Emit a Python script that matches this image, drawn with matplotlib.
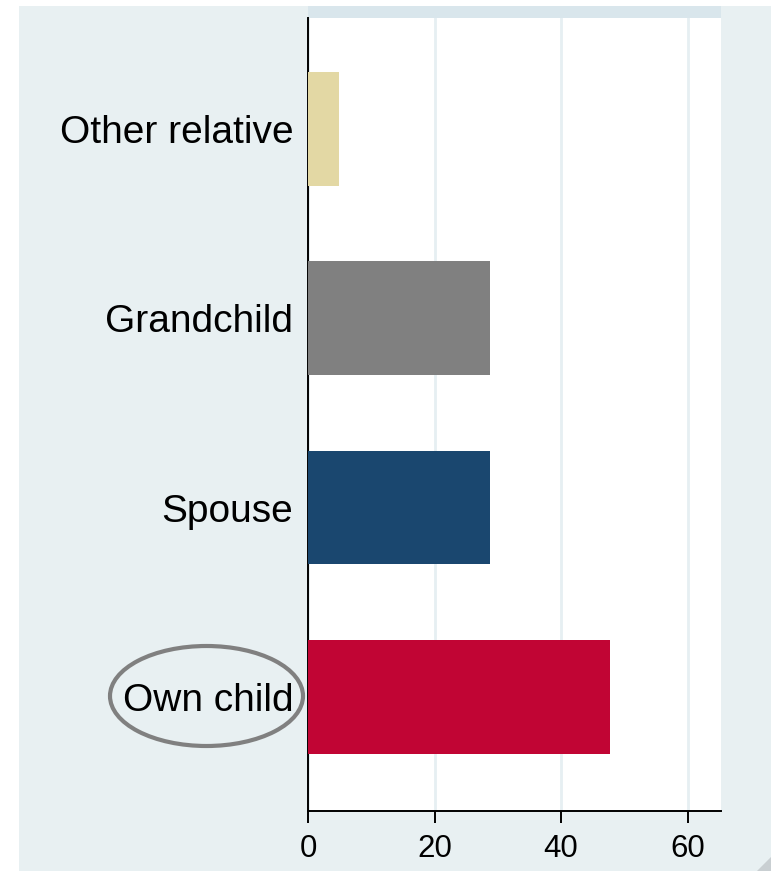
import matplotlib.pyplot as plt
from matplotlib.patches import Rectangle, Ellipse, Polygon

plt.rcParams['font.family'] = ['Liberation Sans', 'DejaVu Sans']

# categories from bottom to top, share in percent
categories = ['Own child', 'Spouse', 'Grandchild', 'Other relative']
values = [47.7, 28.7, 28.7, 4.9]
bar_colors = ['#c10534', '#1a476f', '#808080', '#e3d8a4']
xticks = [0, 20, 40, 60]

W, H = 775, 871
fig = plt.figure(figsize=(W / 100, H / 100), dpi=100)
fig.patch.set_facecolor('white')

# light panel behind everything
fig.add_artist(Rectangle((19 / W, 0), (771 - 19) / W, (H - 6) / H,
                         transform=fig.transFigure, facecolor='#e8f0f2',
                         edgecolor='none', zorder=-10))
# darker strip above the plot region
fig.add_artist(Rectangle((308 / W, (H - 18) / H), (721 - 308) / W, 12 / H,
                         transform=fig.transFigure, facecolor='#d9e6ec',
                         edgecolor='none', zorder=-9))
# folded corner bottom right
fig.add_artist(Polygon([(771 / W, 0), (771 / W, 14 / H), (757 / W, 0)],
                       closed=True, transform=fig.transFigure,
                       facecolor='#c9cfd2', edgecolor='none', zorder=-8))

ax = fig.add_axes([308 / W, (H - 810.7) / H, (720.5 - 308) / W, (810.7 - 18) / H])
ax.set_facecolor('white')

ypos = list(range(len(categories)))
ax.barh(ypos, values, height=0.6, color=bar_colors, zorder=3)

ax.set_xlim(0, 65.2)
ax.set_ylim(-0.6, 3.585)
ax.set_xticks(xticks)
ax.set_xticklabels([str(t) for t in xticks])
ax.set_yticks(ypos)
ax.set_yticklabels(categories)

ax.grid(axis='x', color='#e6eff2', linewidth=2, zorder=0)
ax.tick_params(axis='x', length=8.6, width=1.4, labelsize=22.5, pad=8, color='black')
ax.tick_params(axis='y', length=0, labelsize=28, pad=10.5)

for side in ['top', 'right']:
    ax.spines[side].set_visible(False)
for side in ['left', 'bottom']:
    ax.spines[side].set_linewidth(1.4)
    ax.spines[side].set_color('black')

# highlight around "Own child"
fig.add_artist(Ellipse((206.5 / W, (H - 696) / H), 193 / W, 100 / H,
                       transform=fig.transFigure, facecolor='none',
                       edgecolor='#808080', linewidth=3, zorder=5))

fig.savefig('out.png', dpi=100)
